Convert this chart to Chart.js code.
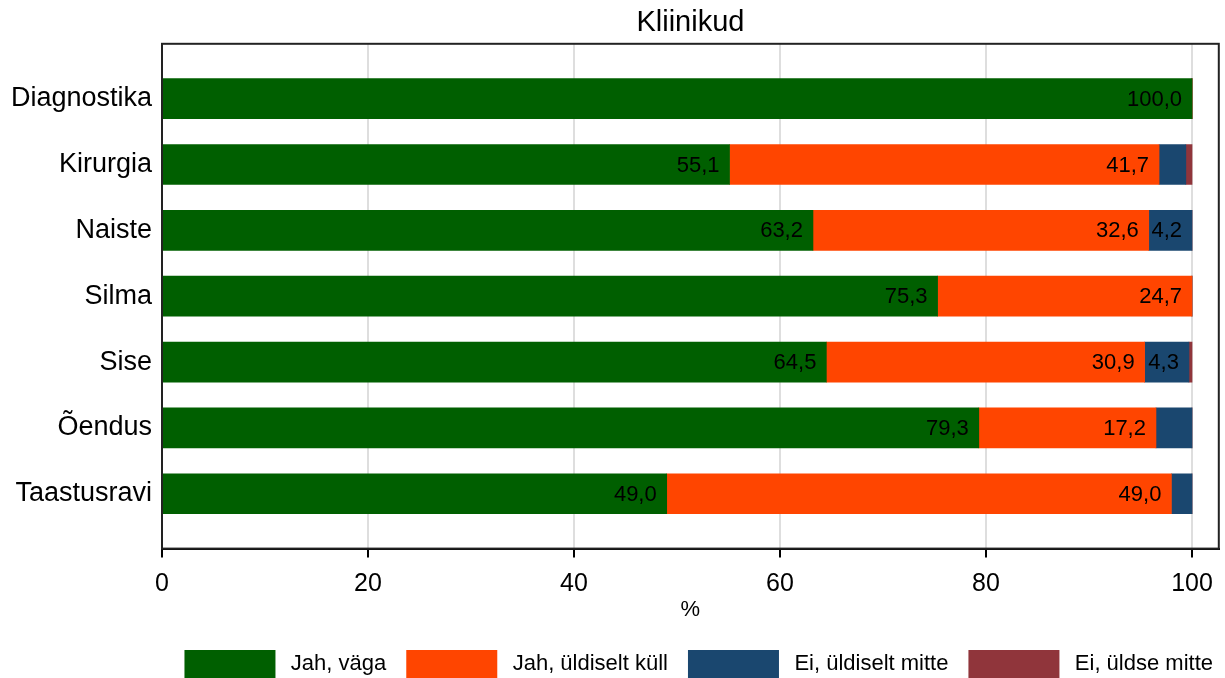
<!DOCTYPE html>
<html>
<head>
<meta charset="utf-8">
<script src="https://cdn.jsdelivr.net/npm/chart.js@4.4.1/dist/chart.umd.min.js"></script>
<style>
  html, body { margin: 0; padding: 0; background: #fff; }
  #wrap { width: 1225px; height: 678px; }
</style>
</head>
<body>
<div id="wrap"><canvas id="chart" width="1225" height="678"></canvas></div>
<script>
// Data (percent per clinic)
const categories = ['Diagnostika', 'Kirurgia', 'Naiste', 'Silma', 'Sise', 'Õendus', 'Taastusravi'];
const seriesNames = ['Jah, väga', 'Jah, üldiselt küll', 'Ei, üldiselt mitte', 'Ei, üldse mitte'];
const jahVaga = [100.0, 55.1, 63.2, 75.3, 64.5, 79.3, 49.0];
const jahKull = [0, 41.7, 32.6, 24.7, 30.9, 17.2, 49.0];
const eiUldiselt = [0, 2.6, 4.2, 0, 4.3, 3.5, 2.0];
const eiUldse = [0, 0.6, 0, 0, 0.3, 0, 0];
const xTicks = [0, 20, 40, 60, 80, 100];

const colors = ['#005f00', '#ff4500', '#1a476f', '#90353b'];
const FONT = "'Liberation Sans', Arial, sans-serif";

function toPoints(values) {
  return values.map((v, i) => ({x: v, y: i}));
}

const datasets = [jahVaga, jahKull, eiUldiselt, eiUldse].map((vals, k) => ({
  label: seriesNames[k],
  data: toPoints(vals),
  backgroundColor: colors[k],
  borderWidth: 0,
  barThickness: 40
}));

// value labels at the inner right end of each segment
const valueLabels = {
  id: 'valueLabels',
  afterDatasetsDraw(chart) {
    const ctx = chart.ctx;
    ctx.save();
    ctx.font = '22px ' + FONT;
    ctx.fillStyle = '#000';
    ctx.textAlign = 'right';
    ctx.textBaseline = 'middle';
    chart.data.datasets.forEach((ds, di) => {
      const meta = chart.getDatasetMeta(di);
      meta.data.forEach((bar, i) => {
        const v = ds.data[i].x;
        if (v < 4) return;
        ctx.fillText(v.toFixed(1).replace('.', ','), bar.x - 10, bar.y + 1);
      });
    });
    ctx.restore();
  }
};

// box around the plot region
const frame = {
  id: 'frame',
  afterDraw(chart) {
    const a = chart.chartArea;
    const ctx = chart.ctx;
    ctx.save();
    ctx.strokeStyle = '#222';
    ctx.lineWidth = 2;
    ctx.strokeRect(a.left, a.top, a.right - a.left, a.bottom - a.top);
    ctx.restore();
  }
};

// centre the title over the plot and nudge the legend right
const placeBlocks = {
  id: 'placeBlocks',
  afterLayout(chart) {
    const a = chart.chartArea;
    if (chart.titleBlock) {
      chart.titleBlock.left = a.left;
      chart.titleBlock.right = a.right;
    }
    if (chart.legend) {
      chart.legend.left += 13;
      chart.legend.right += 13;
    }
  }
};

new Chart(document.getElementById('chart'), {
  type: 'bar',
  data: {datasets: datasets},
  plugins: [valueLabels, frame, placeBlocks],
  options: {
    responsive: false,
    animation: false,
    indexAxis: 'y',
    layout: {padding: {left: 0, right: 5, top: 0, bottom: -10}},
    plugins: {
      title: {
        display: true,
        text: 'Kliinikud',
        color: '#000',
        font: {family: FONT, size: 29, weight: 'normal'},
        padding: {top: 6, bottom: 3}
      },
      legend: {
        position: 'bottom',
        align: 'end',
        labels: {
          color: '#000',
          font: {family: FONT, size: 22},
          boxWidth: 91,
          boxHeight: 28,
          padding: 20,
          generateLabels: chart =>
            Chart.defaults.plugins.legend.labels.generateLabels(chart)
              .map(l => Object.assign(l, {text: '\u2009' + l.text}))
        }
      },
      tooltip: {enabled: false}
    },
    scales: {
      x: {
        type: 'linear',
        stacked: true,
        min: 0,
        max: 102.6,
        afterBuildTicks: s => { s.ticks = xTicks.map(v => ({value: v})); },
        ticks: {color: '#000', font: {family: FONT, size: 25}, padding: 12},
        grid: {
          color: c => (c.tick && c.tick.value === 0 ? 'rgba(0,0,0,0)' : '#dedede'),
          lineWidth: 2,
          tickColor: '#000',
          tickLength: 9,
          tickWidth: 2
        },
        border: {color: '#000', width: 2},
        title: {display: true, text: '%', color: '#000', font: {family: FONT, size: 22}, padding: {top: -15, bottom: 7}}
      },
      y: {
        type: 'linear',
        stacked: true,
        reverse: true,
        offset: false,
        min: -0.833,
        max: 6.833,
        afterBuildTicks: s => { s.ticks = categories.map((c, i) => ({value: i})); },
        afterFit: s => { s.width = 162; },
        ticks: {
          color: '#000',
          font: {family: FONT, size: 27},
          padding: 2,
          callback: v => categories[v]
        },
        grid: {display: false},
        border: {color: '#000', width: 2}
      }
    }
  }
});
</script>
</body>
</html>
